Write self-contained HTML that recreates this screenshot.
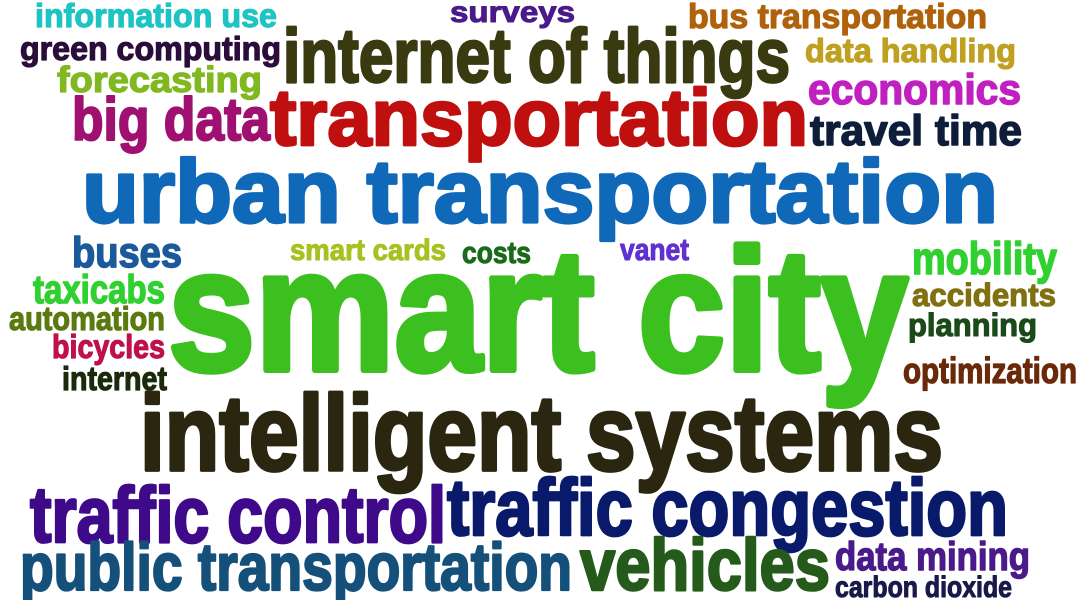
<!DOCTYPE html>
<html><head><meta charset="utf-8"><style>
html,body{margin:0;padding:0;background:#fff;width:1081px;height:600px;overflow:hidden}
svg text{font-family:"Liberation Sans Narrow","Liberation Sans",sans-serif;font-weight:bold}
</style></head><body>
<svg id="cloud" width="1081" height="600" viewBox="0 0 1081 600" xmlns="http://www.w3.org/2000/svg"></svg>
<script>
const words=["information use","surveys","bus transportation","green computing","internet of things","data handling","forecasting","economics","transportation","big data","travel time","urban transportation","buses","smart cards","costs","vanet","mobility","taxicabs","smart city","accidents","automation","planning","bicycles","internet","optimization","intelligent systems","traffic control","traffic congestion","public transportation","vehicles","data mining","carbon dioxide"];
const colors=["#1ec4c4","#4b1a8a","#b0620a","#2a0d3a","#3a3a10","#c0a020","#80b820","#c020c0","#c00f0f","#a01070","#0e1e3a","#1068b8","#1a5a9a","#a8c020","#1a6a1a","#6030d0","#30d030","#30d030","#3cc020","#807010","#5a7a10","#1a4a1a","#c0104a","#1a2a0a","#6a2a0a","#2a2610","#3f0a8a","#0a1a6a","#15507a","#245a1a","#4a1a8a","#1a1a4a"];
// [left, right, top, baseline]
const boxes=[[35,277,2,27],[450,575,0,22],[688,987,2,28],[20,281,35,60],[283,790,25,82],[805,1016,37,62],[57,262,65,92],[808,1021,72,104],[270,808,85,145],[72,270,95,140],[810,1022,113,145],[82,998,155,222],[72,182,235,267],[290,446,238,260],[462,531,240,263],[620,689,237,260],[912,1057,240,274],[33,165,273,303],[168,908,240,370],[912,1056,282,306],[9,165,305,330],[908,1037,312,336],[52,165,333,358],[62,167,365,390],[903,1077,356,383],[140,943,390,470],[30,446,483,542],[447,1008,475,535],[20,572,540,590],[580,830,535,590],[835,1030,540,570],[835,1012,575,597]];
const svg=document.getElementById('cloud');
words.forEach((w,i)=>{
  const b=boxes[i];
  const fs=(b[3]-b[2])/0.75;
  const t=document.createElementNS('http://www.w3.org/2000/svg','text');
  t.setAttribute('x',b[0]);
  t.setAttribute('y',b[3]);
  t.setAttribute('font-size',fs.toFixed(1));
  t.setAttribute('fill',colors[i]);
  t.setAttribute('stroke',colors[i]);
  t.setAttribute('stroke-width',(fs*0.035).toFixed(2));
  t.setAttribute('stroke-linejoin','round');
  t.setAttribute('paint-order','stroke');
  t.setAttribute('textLength',b[1]-b[0]);
  t.setAttribute('lengthAdjust','spacingAndGlyphs');
  t.textContent=w;
  
  
  svg.appendChild(t);
});
</script>
</body></html>
